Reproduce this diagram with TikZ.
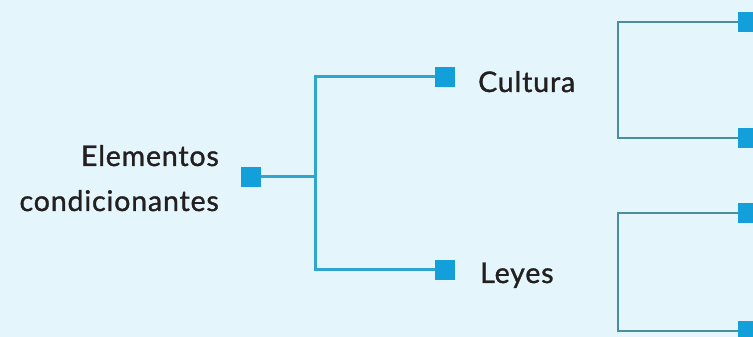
\documentclass[tikz,border=0pt]{standalone}
\usepackage{fontspec}
\setmainfont{Lato}[FakeBold=1.2]
\definecolor{bg}{HTML}{E4F6FC}
\definecolor{sqblue}{HTML}{139FDA}
\definecolor{lineblue}{HTML}{2FA6D0}
\definecolor{teal}{HTML}{4B8E9B}
\definecolor{ink}{HTML}{231F20}
\tikzset{
  sq/.style={fill=sqblue, draw=none, minimum size=20pt, inner sep=0pt},
  lbl/.style={text=ink, font=\fontsize{28.5}{45}\selectfont\addfontfeatures{LetterSpace=3}, inner sep=0pt},
  conn/.style={draw=lineblue, line width=3pt},
  brk/.style={draw=teal, line width=2.7pt}
}
\begin{document}
\begin{tikzpicture}[x=1pt,y=1pt]
\fill[bg] (0,0) rectangle (753,337);
\useasboundingbox (0,0) rectangle (753,337);
% nodes
\node[sq] (m) at (251,160) {};
\node[sq] (c) at (445,260) {};
\node[sq] (l) at (445,67) {};
\node[sq] (r1) at (748,315) {};
\node[sq] (r2) at (748,199) {};
\node[sq] (r3) at (748,124) {};
\node[sq] (r4) at (748,6) {};
\node[lbl, anchor=base east, align=right] (e) at (219,126) {Elementos\\condicionantes};
\node[lbl, anchor=base west] (ct) at (478,245) {Cultura};
\node[lbl, anchor=base west] (ly) at (480,54) {Leyes};
% connectors
\coordinate (j) at (315,160);
\draw[conn] (m.east) -- (j);
\draw[conn] (c.west) -| (j) |- (l.west);
\coordinate (b1) at (618,260);
\coordinate (b2) at (618,67);
\draw[brk] (r1.west) -| (b1) |- (r2.west);
\draw[brk] (r3.west) -| (b2) |- (r4.west);
\end{tikzpicture}
\end{document}
